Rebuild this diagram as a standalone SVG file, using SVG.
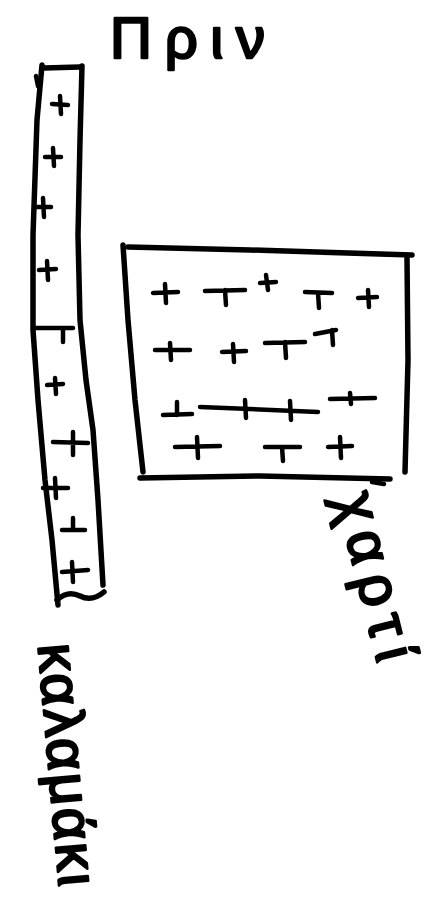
<svg xmlns="http://www.w3.org/2000/svg" width="431" height="898" viewBox="0 0 431 898">
<style>
.ink{fill:none;stroke:#000;stroke-width:5.5;stroke-linecap:round;stroke-linejoin:round}
.mk{fill:none;stroke:#000;stroke-width:4.5;stroke-linecap:round;stroke-linejoin:round}
.hand{font-family:"Liberation Sans","DejaVu Sans",sans-serif;fill:#000;stroke:#000;stroke-width:2.5;stroke-linejoin:round}
</style>
<rect width="431" height="898" fill="#fff"/>
<g id="title">
<text class="hand" x="110" y="58" font-size="58" textLength="155" lengthAdjust="spacing">Πριν</text>
</g>
<g id="straw">
<path class="ink" d="M42,65 L37,120 L33,235 L33,330 L38,400 L45,480 L52,540 L58,605"/>
<path class="ink" d="M44,68 L80,67"/>
<path class="ink" d="M82,66 L80,140 L78,235 L80,320 L86,380 L93,430 L98,500 L103,585"/>
<path class="ink" d="M57,600 Q68,590 80,596 T104,592"/>
<path class="mk" d="M36,76 L38,86"/>
<g class="mk">
<path d="M52,104 L68,105 M60,96 L61,114"/>
<path d="M45,157 L61,157 M53,148 L54,166"/>
<path d="M36,207 L51,207 M43,198 L44,217"/>
<path d="M39,270 L56,269 M47,261 L48,280"/>
<path d="M35,328 L73,328 M63,328 L63,342"/>
<path d="M47,385 L63,384 M55,378 L56,394"/>
<path d="M53,442 L88,443 M73,432 L73,455"/>
<path d="M43,488 L68,488 M55,478 L56,498"/>
<path d="M73,518 L73,530 M62,530 L85,530"/>
<path d="M62,572 L88,570 M72,562 L73,582"/>
</g>
</g>
<g id="paper">
<path class="ink" d="M123,245 L128,320 L135,400 L143,472"/>
<path class="ink" d="M128,247 L250,250 L412,255"/>
<path class="ink" d="M407,258 L408,360 L405,472"/>
<path class="ink" d="M140,478 L260,476 L390,479"/>
<path class="mk" d="M372,482 L384,484"/>
<g class="mk">
<path d="M153,293 L178,292 M165,284 L166,303"/>
<path d="M205,291 L245,290 M225,290 L226,305"/>
<path d="M260,283 L276,282 M266,275 L268,290"/>
<path d="M305,292 L332,293 M318,293 L319,308"/>
<path d="M358,298 L377,297 M368,290 L369,307"/>
<path d="M155,350 L190,350 M170,343 L171,360"/>
<path d="M222,352 L246,351 M233,344 L234,362"/>
<path d="M265,343 L305,342 M285,342 L286,358"/>
<path d="M315,334 L336,330 M332,330 L333,345"/>
<path d="M177,402 L177,415 M163,415 L192,414"/>
<path d="M200,407 L318,412 M245,400 L246,418 M290,401 L291,420"/>
<path d="M330,399 L375,398 M350,393 L351,404"/>
<path d="M175,447 L220,446 M197,437 L198,458"/>
<path d="M265,447 L300,447 M282,447 L283,461"/>
<path d="M328,447 L352,446 M340,437 L341,458"/>
</g>
</g>
<g id="label-paper">
<text class="hand" font-size="58" transform="translate(336,497) rotate(76)" textLength="172" lengthAdjust="spacing">χαρτί</text>
</g>
<g id="label-straw">
<text class="hand" font-size="56" transform="translate(38,645) rotate(85)" textLength="243" lengthAdjust="spacing">καλαμάκι</text>
</g>
</svg>
